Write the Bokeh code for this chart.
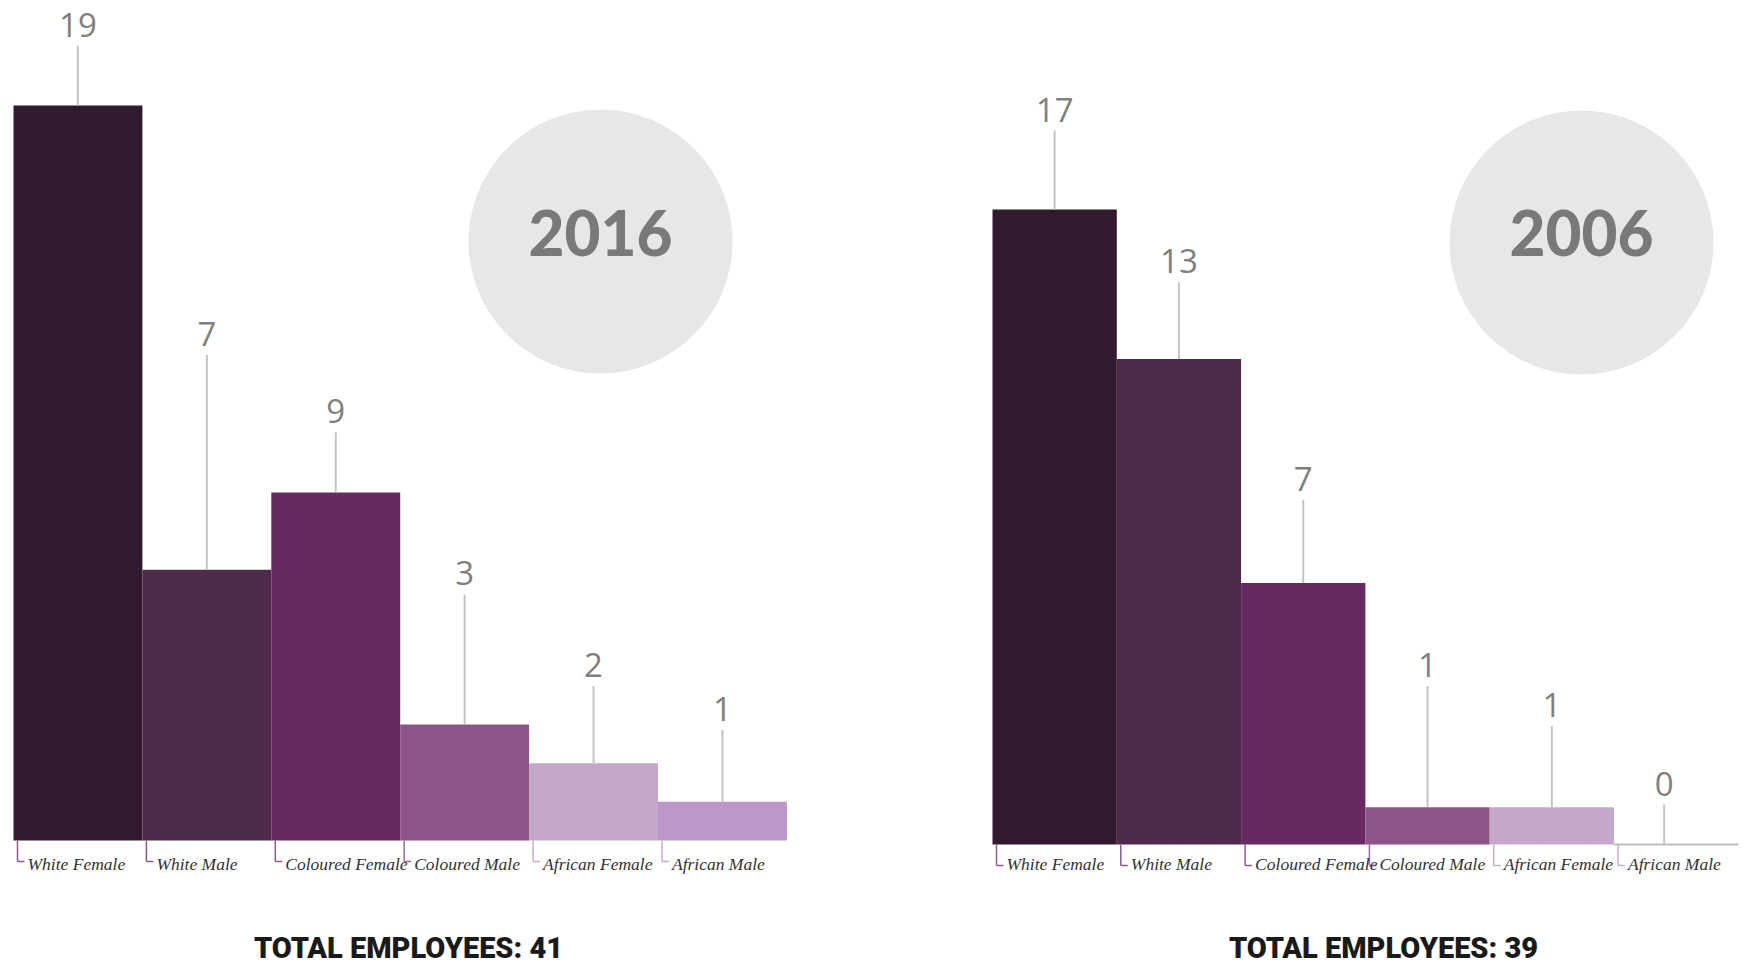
from bokeh.plotting import figure
from bokeh.layouts import row
from bokeh.models import Range1d
from bokeh.core.properties import value
from bokeh.embed import file_html
from bokeh.resources import INLINE

# ---------------- data ----------------
categories = ["White Female", "White Male", "Coloured Female",
              "Coloured Male", "African Female", "African Male"]
values_2016 = [19, 7, 9, 3, 2, 1]
values_2006 = [17, 13, 7, 1, 1, 0]
years = ["2016", "2006"]

# ---------------- styles ----------------
bar_colors = ["#31192f", "#4e2a4b", "#672a60", "#8c5489", "#c3a8ca", "#bc97c8"]
bracket_colors = ["#8e5a8c", "#8e5a8c", "#8e5a8c", "#9a6a98", "#c8acce", "#c8acce"]
# leader line lengths above each bar (screen px) and horizontal shifts (px)
leaders_2016 = [60, 215, 60, 130, 77, 72]
leaders_2006 = [79, 77, 83, 121, 81, 40]
shift_2016 = [0, 0, 0, 0, 0, 0]
shift_2006 = [0, 0, 0, 0, 0, -12]

PAGE_TOP = 0
H = 966


def panel(vals, leaders, shifts, year, fig_x0, width, bar_x0, bar_w, base, ppu,
          circle_px, total_cx):
    x_lo = (fig_x0 - bar_x0) / bar_w
    x_hi = (fig_x0 + width - bar_x0) / bar_w
    y_lo = (base - (PAGE_TOP + H)) / ppu
    y_hi = (base - PAGE_TOP) / ppu
    p = figure(width=width, height=H, output_backend="svg", toolbar_location=None,
               x_axis_type=None, y_axis_type=None, min_border=0,
               x_range=Range1d(x_lo, x_hi), y_range=Range1d(y_lo, y_hi))
    p.outline_line_color = None
    p.background_fill_color = "white"
    p.border_fill_color = "white"

    n = len(vals)
    idx = list(range(n))

    # year circle
    cx = (circle_px[0] - bar_x0) / bar_w
    cy = (base - circle_px[1]) / ppu
    p.scatter([cx], [cy], size=264, marker="circle", fill_color="#e7e7e7",
              line_color=None)
    p.text([cx], [(base - 232) / ppu], text=[year], text_align="center",
           text_baseline="middle", text_font=value("Lato Black"),
           text_font_style="bold", text_font_size="62px", text_color="#797979")

    # bars
    p.quad(left=idx, right=[i + 1 for i in idx], bottom=[0] * n, top=vals,
           fill_color=bar_colors, line_color=None)
    # zero-valued bars drawn as a baseline
    zi = [i for i in idx if vals[i] == 0]
    if zi:
        p.segment(x0=zi, y0=[0] * len(zi), x1=[i + 1 for i in zi],
                  y1=[0] * len(zi), line_color="#bdbdbd", line_width=2)

    # leader lines and value labels
    xc = [i + 0.5 + shifts[i] / bar_w for i in idx]
    tops = [vals[i] + leaders[i] / ppu for i in idx]
    p.segment(x0=xc, y0=vals, x1=xc, y1=tops, line_color="#c4c4c4", line_width=2)
    p.text(xc, [t + 21 / ppu for t in tops], text=[str(v) for v in vals],
           text_align="center", text_baseline="middle",
           text_font=value("Open Sans"), text_font_size="33px",
           text_color="#808080")

    # category brackets and labels
    off = 4
    bx = [i + off / bar_w for i in idx]
    bdrop = -21 / ppu
    p.segment(x0=bx, y0=[0] * n, x1=bx, y1=[bdrop] * n,
              line_color=bracket_colors, line_width=1.5)
    p.segment(x0=bx, y0=[bdrop] * n, x1=[b + 7 / bar_w for b in bx],
              y1=[bdrop] * n, line_color=bracket_colors, line_width=1.5)
    p.text([b + 10 / bar_w for b in bx], [(base - 863) / ppu] * n, text=categories,
           text_align="left", text_baseline="middle",
           text_font=value("Liberation Serif"), text_font_style="italic",
           text_font_size="17.5px", text_color="#333333")

    # total
    p.text([(total_cx - bar_x0) / bar_w], [(base - 947) / ppu],
           text=["TOTAL EMPLOYEES: %d" % sum(vals)], text_align="center",
           text_baseline="middle", text_font=value("Roboto Black"),
           text_font_style="bold", text_font_size="29px", text_color="#1a1a1a")
    return p


p1 = panel(values_2016, leaders_2016, shift_2016, years[0], fig_x0=0, width=880,
           bar_x0=13, bar_w=128.9, base=840, ppu=38.68,
           circle_px=(600, 241), total_cx=408)
p2 = panel(values_2006, leaders_2006, shift_2006, years[1], fig_x0=880, width=860,
           bar_x0=992, bar_w=124.3, base=844, ppu=37.35,
           circle_px=(1581, 242), total_cx=1383)

layout = row(p1, p2, spacing=0)
open("out.html", "w").write(file_html(layout, INLINE))
